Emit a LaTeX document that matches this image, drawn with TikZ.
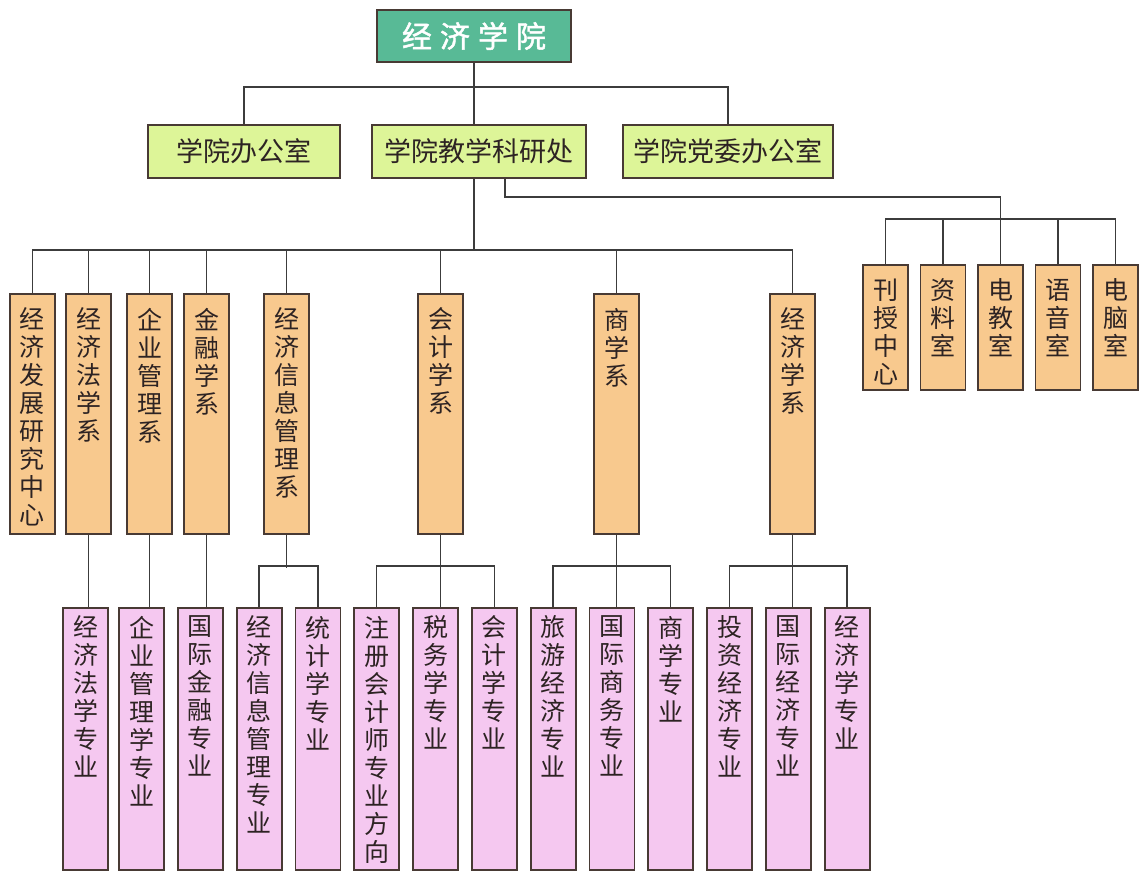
\documentclass[tikz,border=0pt]{standalone}
\usepackage{fontspec}
\setmainfont{Noto Sans CJK SC}
\newfontfamily\titlefont[FakeBold=1.5]{Noto Sans CJK SC}
\usepackage{tikz}
\usetikzlibrary{positioning}
\definecolor{headgreen}{RGB}{88,186,150}
\definecolor{officegreen}{RGB}{221,245,152}
\definecolor{deptorange}{RGB}{248,201,142}
\definecolor{majorpink}{RGB}{245,200,240}
\definecolor{boxline}{RGB}{72,58,52}
\definecolor{wirecol}{RGB}{60,60,60}
\definecolor{txt}{RGB}{45,35,35}
\newcommand{\colText}[2]{\parbox[t][#1][t]{27pt}{\centering #2}}
\tikzstyle{head}=[draw=boxline,fill=headgreen,line width=1.8pt,minimum width=194pt,minimum height=52pt,text=white,font=\titlefont\fontsize{30}{32}\selectfont]
\tikzstyle{office}=[draw=boxline,fill=officegreen,line width=1.8pt,minimum height=53pt,text=txt,font=\fontsize{27}{30}\selectfont]
\tikzstyle{dept}=[draw=boxline,fill=deptorange,line width=1.8pt,anchor=north,minimum width=45pt,inner xsep=2pt,inner ysep=14pt,text=txt,font=\fontsize{25}{28}\selectfont]
\tikzstyle{major}=[dept,fill=majorpink,inner ysep=8pt]

\begin{document}
\begin{tikzpicture}
	[x=1pt,y=-1pt,node distance=12pt]
	\tikzstyle{wire}=[draw=wirecol,line width=1.5pt];
	\useasboundingbox (0,0) rectangle (1139,871);
	% top levels
	\node (0) [head] at (474,36) {经\hspace{8pt}济\hspace{8pt}学\hspace{8pt}院};
	\node (1) [office,minimum width=192pt] at (244,151.5) {学院办公室};
	\node (2) [office,minimum width=214pt] at (479,151.5) {学院教学科研处};
	\node (3) [office,minimum width=210pt] at (728,151.5) {学院党委办公室};
	% departments
	\node (11) [dept] at (32.5,293) {\colText{212pt}{经\\济\\发\\展\\研\\究\\中\\心}};
	\node (12) [dept] at (88.5,293) {\colText{212pt}{经\\济\\法\\学\\系}};
	\node (13) [dept] at (149.5,293) {\colText{212pt}{企\\业\\管\\理\\系}};
	\node (14) [dept] at (206.5,293) {\colText{212pt}{金\\融\\学\\系}};
	\node (15) [dept] at (286.5,293) {\colText{212pt}{经\\济\\信\\息\\管\\理\\系}};
	\node (16) [dept] at (440.5,293) {\colText{212pt}{会\\计\\学\\系}};
	\node (17) [dept] at (616.5,293) {\colText{212pt}{商\\学\\系}};
	\node (18) [dept] at (792.5,293) {\colText{212pt}{经\\济\\学\\系}};
	% rooms
	\node (21) [dept] at (885.5,264) {\colText{97pt}{刊\\授\\中\\心}};
	\node (22) [dept,right=10.7pt of 21] {\colText{97pt}{资\\料\\室}};
	\node (23) [dept,right=10.7pt of 22] {\colText{97pt}{电\\教\\室}};
	\node (24) [dept,right=10.7pt of 23] {\colText{97pt}{语\\音\\室}};
	\node (25) [dept,right=10.7pt of 24] {\colText{97pt}{电\\脑\\室}};
	% majors
	\node (31) [major] at (85.5,607) {\colText{246pt}{经\\济\\法\\学\\专\\业}};
	\node (32) [major,right=9.2pt of 31] {\colText{246pt}{企\\业\\管\\理\\学\\专\\业}};
	\node (33) [major,right=of 32] {\colText{246pt}{国\\际\\金\\融\\专\\业}};
	\node (34) [major,right=of 33] {\colText{246pt}{经\\济\\信\\息\\管\\理\\专\\业}};
	\node (35) [major,right=of 34] {\colText{246pt}{统\\计\\学\\专\\业}};
	\node (36) [major,right=of 35] {\colText{246pt}{注\\册\\会\\计\\师\\专\\业\\方\\向}};
	\node (37) [major,right=of 36] {\colText{246pt}{税\\务\\学\\专\\业}};
	\node (38) [major,right=of 37] {\colText{246pt}{会\\计\\学\\专\\业}};
	\node (39) [major,right=of 38] {\colText{246pt}{旅\\游\\经\\济\\专\\业}};
	\node (40) [major,right=of 39] {\colText{246pt}{国\\际\\商\\务\\专\\业}};
	\node (41) [major,right=of 40] {\colText{246pt}{商\\学\\专\\业}};
	\node (42) [major,right=of 41] {\colText{246pt}{投\\资\\经\\济\\专\\业}};
	\node (43) [major,right=of 42] {\colText{246pt}{国\\际\\经\\济\\专\\业}};
	\node (44) [major,right=of 43] {\colText{246pt}{经\\济\\学\\专\\业}};
	% connectors
	\draw[wire] (0.south) -- (0.south |- 2.north);
	\draw[wire] (1.north) -- ++(0,-37) -| (3.north);
	\draw[wire] (0.south |- 2.south) -- ++(0,71) coordinate (bus);
	\draw[wire] (11.north) -- (11.north |- bus) -- (18.north |- bus) -- (18.north);
	\foreach \n in {12,...,17} \draw[wire] (\n.north) -- (\n.north |- bus);
	\draw[wire] ([xshift=26pt]2.south) -- ++(0,18) -| (23.north);
	\draw[wire] (21.north) -- ++(0,-45) -| (25.north);
	\foreach \n in {22,24} \draw[wire] (\n.north) -- ++(0,-45);
	\foreach \a/\b in {12/31,13/32,14/33,16/37,17/40,18/43} \draw[wire] (\a.south) -- (\a.south |- \b.north);
	\draw[wire] (15.south) -- ++(0,33);
	\draw[wire] (34.north) -- ++(0,-41) -| (35.north);
	\draw[wire] (36.north) -- ++(0,-41) -| (38.north);
	\draw[wire] (39.north) -- ++(0,-41) -| (41.north);
	\draw[wire] (42.north) -- ++(0,-41) -| (44.north);
\end{tikzpicture}
\end{document}
